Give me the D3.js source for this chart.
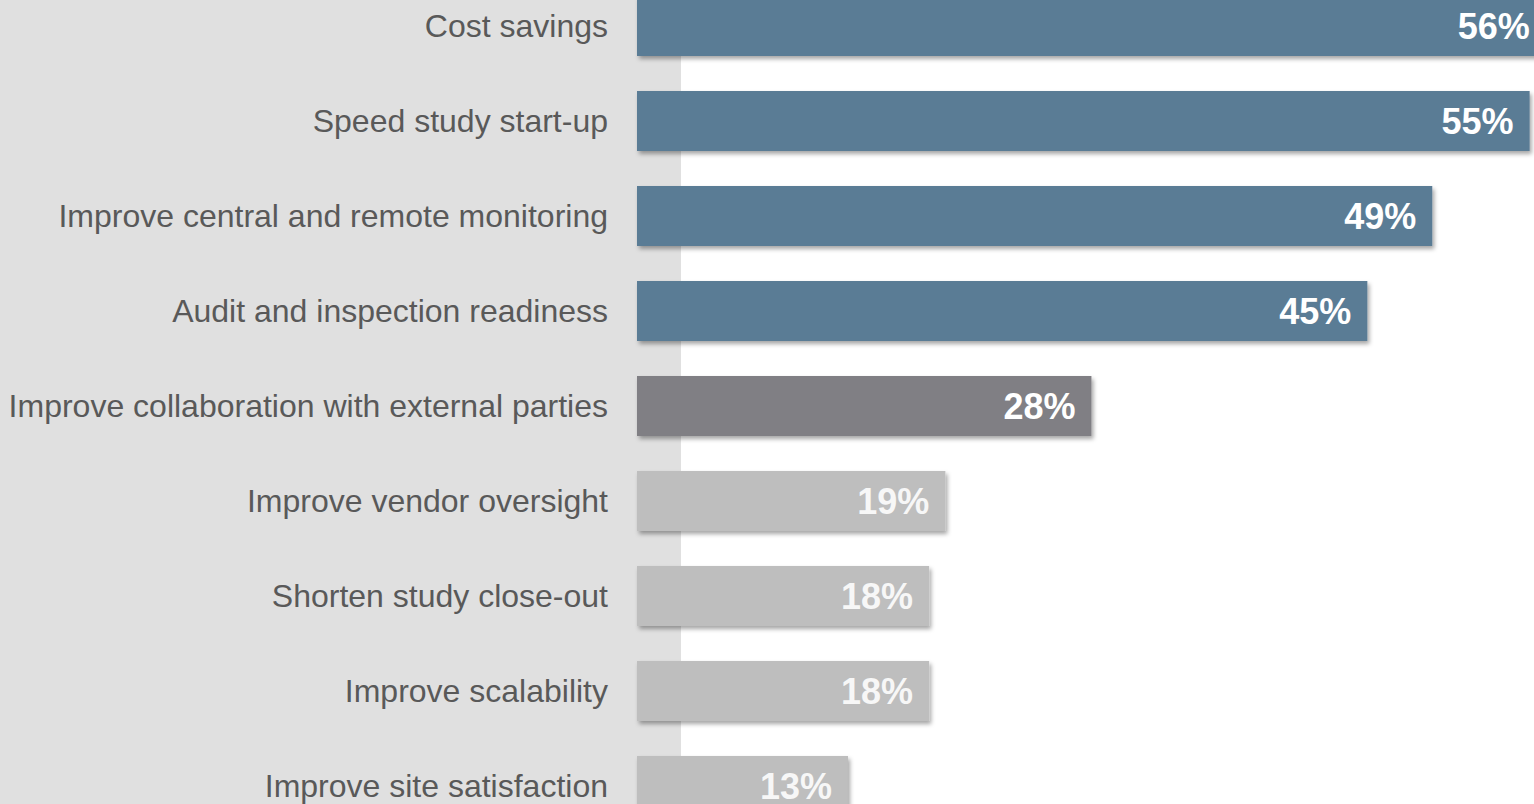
<!DOCTYPE html>
<html lang="en">
<head>
  <meta charset="UTF-8">
  <title>Chart</title>
  <style>
    html, body { margin: 0; padding: 0; background: #fff; overflow: hidden; }
    svg { display: block; }
  </style>
</head>
<body>
  <div id="main"></div>
  <script src="https://cdn.jsdelivr.net/npm/d3@7"></script>
  <script>
    // data
    const categories = [
      "Cost savings",
      "Speed study start-up",
      "Improve central and remote monitoring",
      "Audit and inspection readiness",
      "Improve collaboration with external parties",
      "Improve vendor oversight",
      "Shorten study close-out",
      "Improve scalability",
      "Improve site satisfaction"
    ]
    const values = [56, 55, 49, 45, 28, 19, 18, 18, 13]
    const groups = ["top", "top", "top", "top", "mid", "low", "low", "low", "low"]

    const W = 1534, H = 804
    const colors = { top: "#5a7c95", mid: "#807f84", low: "#bebebe" }

    const svg = d3.select('#main').append('svg')
      .attr('width', W)
      .attr('height', H)

    // drop shadow
    const defs = svg.append('defs')
    defs.append('filter')
      .attr('id', 'shadow')
      .attr('x', '-5%').attr('y', '-20%')
      .attr('width', '110%').attr('height', '150%')
      .append('feDropShadow')
      .attr('dx', 2).attr('dy', 3)
      .attr('stdDeviation', 2)
      .attr('flood-color', '#000')
      .attr('flood-opacity', 0.35)

    // grey panel behind labels
    svg.append('rect')
      .attr('x', 0).attr('y', 0)
      .attr('width', 681).attr('height', H)
      .attr('fill', '#e0e0e0')

    const x = d3.scaleLinear().domain([0, 100]).range([637, 637 + 1623])
    const y = d3.scaleBand()
      .domain(categories)
      .range([-21.5, 833.5])
      .paddingInner(35 / 95)
      .paddingOuter(35 / 190)

    const rows = svg.append('g').selectAll('g')
      .data(categories)
      .join('g')

    rows.append('rect')
      .attr('x', x(0))
      .attr('y', d => y(d))
      .attr('width', (d, i) => x(values[i]) - x(0))
      .attr('height', y.bandwidth())
      .attr('fill', (d, i) => colors[groups[i]])
      .attr('filter', 'url(#shadow)')

    // category labels
    rows.append('text')
      .attr('x', 608)
      .attr('y', d => y(d) + y.bandwidth() / 2)
      .attr('dy', '0.33em')
      .attr('text-anchor', 'end')
      .attr('font-family', 'Liberation Sans, Arial, sans-serif')
      .attr('font-size', 32)
      .attr('fill', '#595959')
      .text(d => d)

    // value labels
    rows.append('text')
      .attr('x', (d, i) => x(values[i]) - 16)
      .attr('y', d => y(d) + y.bandwidth() / 2)
      .attr('dy', '0.36em')
      .attr('text-anchor', 'end')
      .attr('font-family', 'Liberation Sans, Arial, sans-serif')
      .attr('font-weight', 'bold')
      .attr('font-size', 36)
      .attr('fill', (d, i) => groups[i] === 'low' ? '#f7f7f7' : '#fff')
      .text((d, i) => values[i] + '%')
  </script>
</body>
</html>
